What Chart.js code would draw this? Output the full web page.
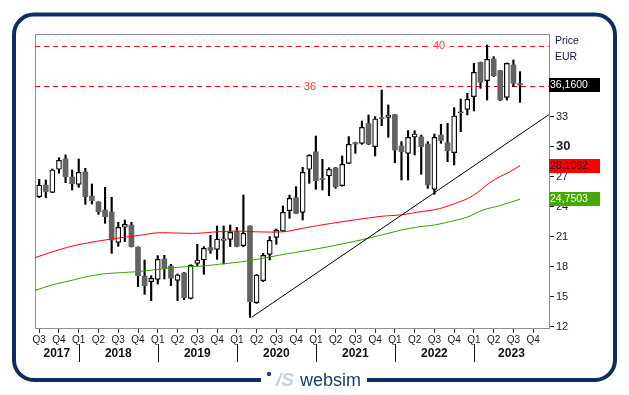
<!DOCTYPE html>
<html>
<head>
<meta charset="utf-8">
<script src="https://cdn.jsdelivr.net/npm/chart.js@4.4.1/dist/chart.umd.min.js"></script>
<style>
  html, body { margin: 0; padding: 0; background: #fff; }
  #wrap { position: relative; width: 629px; height: 395px; }
</style>
</head>
<body>
<div id="wrap"><canvas id="chart"></canvas></div>
<script>
// monthly candles, index 0 = Jul 2017
const open = [25.01, 26.17, 25.44, 27.74, 28.77, 26.97, 26.24, 27.47, 25.07, 24.48,
  23.68, 23.48, 20.45, 21.95, 22.18, 19.98, 17.09, 16.52, 16.76, 18.79,
  18.09, 16.66, 17.39, 14.86, 18.35, 18.69, 19.92, 19.75, 20.65, 20.75,
  21.51, 20.12, 22.08, 14.43, 16.62, 19.25, 20.95, 21.58, 23.61, 24.91,
  23.44, 27.74, 29.47, 26.76, 27.07, 27.87, 26.10, 28.33, 30.40, 30.33,
  32.29, 30.00, 32.86, 32.92, 33.19, 30.06, 29.33, 30.96, 30.96, 30.26,
  25.74, 31.16, 30.40, 29.40, 33.38, 33.72, 34.99, 38.41, 36.58, 38.75,
  37.58, 34.92, 38.15, 36.30];
const high = [26.74, 26.67, 27.77, 28.90, 29.17, 27.67, 28.77, 27.84, 26.27, 24.50,
  25.94, 24.94, 22.45, 22.68, 22.45, 20.00, 18.69, 17.12, 19.12, 19.15,
  18.25, 17.29, 17.45, 18.22, 20.25, 20.02, 21.15, 22.08, 22.08, 22.18,
  21.95, 25.17, 22.10, 17.25, 19.35, 21.02, 21.78, 24.08, 25.17, 26.00,
  27.93, 29.20, 31.06, 28.73, 27.90, 27.93, 29.07, 31.00, 30.45, 32.56,
  33.16, 32.99, 35.65, 34.16, 33.20, 30.50, 31.59, 31.59, 31.16, 30.50,
  31.26, 32.23, 32.33, 33.89, 34.75, 35.32, 38.31, 38.45, 40.14, 38.98,
  37.60, 38.35, 38.65, 37.48];
const low = [24.91, 24.91, 25.40, 27.34, 26.40, 25.67, 25.94, 24.24, 24.28, 23.24,
  22.35, 19.35, 20.05, 20.52, 19.98, 16.03, 15.26, 14.63, 16.29, 16.79,
  16.13, 14.63, 14.73, 14.79, 18.12, 17.26, 19.35, 18.75, 18.29, 20.02,
  20.00, 20.02, 12.96, 14.36, 16.52, 18.69, 20.25, 21.51, 22.85, 23.30,
  22.68, 26.34, 25.74, 25.67, 25.11, 25.84, 26.05, 28.30, 29.33, 30.23,
  30.20, 29.07, 32.09, 30.93, 28.40, 26.67, 26.67, 29.17, 27.24, 25.84,
  25.24, 30.33, 28.50, 28.17, 31.49, 33.16, 33.56, 35.82, 34.65, 37.00,
  34.59, 34.65, 35.99, 34.42];
const close = [26.17, 25.51, 27.67, 28.63, 27.00, 26.30, 27.44, 25.01, 24.61, 23.51,
  23.01, 20.68, 21.95, 22.25, 20.02, 17.12, 16.13, 16.86, 18.75, 17.85,
  16.86, 17.19, 14.93, 18.15, 18.69, 19.85, 19.65, 20.78, 20.72, 21.45,
  20.05, 21.35, 14.53, 17.19, 19.15, 20.65, 21.65, 23.44, 24.84, 23.34,
  27.44, 29.13, 26.60, 26.72, 27.74, 26.00, 28.23, 30.23, 30.26, 31.93,
  30.26, 32.76, 32.80, 33.16, 29.66, 29.50, 30.93, 31.26, 30.00, 26.17,
  30.93, 30.60, 29.60, 33.06, 33.45, 34.72, 37.42, 36.42, 38.71, 37.08,
  34.65, 38.31, 36.32, 36.16];

// moving averages (month index, value)
const redMonth = [-0.64, 2, 5, 8, 11, 15, 18, 21, 24, 27, 30, 33, 37, 40, 43, 48, 52, 55, 58, 60, 61.5, 63, 65, 66.5, 68, 69.5, 71.5, 73];
const redValue = [18.92, 19.5, 20.07, 20.47, 20.78, 21.13, 21.4, 21.37, 21.35, 21.5, 21.57, 21.5, 21.5, 21.85, 22.2, 22.7, 23.05, 23.2, 23.52, 23.7, 23.95, 24.3, 24.8, 25.4, 26.2, 26.85, 27.5, 28.11];
const greenMonth = [-0.64, 2, 4.7, 7.2, 9.7, 12.3, 14.8, 17.3, 19.9, 22.4, 24.9, 27.4, 30.5, 32.5, 37.5, 42.6, 47.7, 52.7, 55, 57.8, 60, 62.3, 64.9, 67.4, 69.9, 73];
const greenValue = [15.66, 16.2, 16.62, 17.02, 17.29, 17.42, 17.52, 17.69, 17.89, 18.02, 18.09, 18.27, 18.49, 18.69, 19.29, 19.85, 20.52, 21.3, 21.68, 22.01, 22.18, 22.51, 22.95, 23.68, 24.11, 24.75];
const redLast = 28.1062;
const greenLast = 24.7503;

// trend line
const trendMonth = [32.25, 77.4];
const trendValue = [12.97, 33.2];

const levels = [40, 36];
const quarterLabels = ['Q3', 'Q4',
  'Q1', 'Q2', 'Q3', 'Q4', 'Q1', 'Q2', 'Q3', 'Q4', 'Q1', 'Q2', 'Q3', 'Q4',
  'Q1', 'Q2', 'Q3', 'Q4', 'Q1', 'Q2', 'Q3', 'Q4', 'Q1', 'Q2', 'Q3', 'Q4'];
const years = ['2017', '2018', '2019', '2020', '2021', '2022', '2023'];
const priceTicks = [12, 15, 18, 21, 24, 27, 30, 33];

const FONT = '"Liberation Sans", Arial, sans-serif';
const xMin = -0.64, xMax = 77.4;

const idx = close.map((_, i) => i);
const up = idx.map(i => close[i] >= open[i]);
const fmt = v => v.toFixed(4).replace('.', ',');

const decor = {
  id: 'decor',
  beforeDatasetsDraw(chart) {
    const { ctx, chartArea: a } = chart;
    ctx.save();
    ctx.strokeStyle = '#8e8ea0';
    ctx.lineWidth = 1;
    ctx.strokeRect(a.left + 0.5, a.top + 0.5, a.right - a.left, a.bottom - a.top);
    ctx.restore();
  },
  afterDatasetsDraw(chart) {
    const { ctx } = chart;
    const xs = chart.scales.x, ys = chart.scales.y;
    const labelAt = [60.7, 41.1];
    ctx.save();
    ctx.font = '11px ' + FONT;
    ctx.textAlign = 'center';
    ctx.textBaseline = 'middle';
    levels.forEach((lv, k) => {
      const x = xs.getPixelForValue(labelAt[k]);
      const y = ys.getPixelForValue(lv);
      const w = ctx.measureText(String(lv)).width;
      ctx.fillStyle = '#fff';
      ctx.fillRect(x - w / 2 - 5, y - 5, w + 10, 10);
      ctx.fillStyle = '#ff3838';
      ctx.fillText(String(lv), x, y);
    });
    ctx.restore();
  },
  afterDraw(chart) {
    const { ctx } = chart;
    const xs = chart.scales.x, ys = chart.scales.y;
    ctx.save();

    // year row
    ctx.font = 'bold 12px ' + FONT;
    ctx.textAlign = 'center';
    ctx.textBaseline = 'middle';
    ctx.fillStyle = '#111';
    ctx.strokeStyle = '#111';
    ctx.lineWidth = 1;
    years.forEach((yr, k) => {
      const s = k * 12 - 6, e = s + 12;
      const c = (Math.max(s, xMin) + Math.min(e, xMax)) / 2;
      ctx.fillText(yr, xs.getPixelForValue(c), 354);
      if (s > xMin) {
        const px = Math.round(xs.getPixelForValue(s)) + 0.5;
        ctx.beginPath();
        ctx.moveTo(px, 344);
        ctx.lineTo(px, 362);
        ctx.stroke();
      }
    });

    // right side captions
    ctx.textAlign = 'left';
    ctx.font = '10.5px ' + FONT;
    ctx.fillStyle = '#16164a';
    ctx.fillText('Price', 555, 41);
    ctx.fillText('EUR', 555, 57);

    // value boxes
    const boxes = [
      [close[close.length - 1], '#000000', '#ffffff'],
      [redLast, '#ff0000', '#1a0000'],
      [greenLast, '#48a800', '#ffffff']
    ];
    boxes.forEach(([v, bg, fg]) => {
      const y = Math.round(ys.getPixelForValue(v));
      ctx.fillStyle = bg;
      ctx.fillRect(549, y - 7, 51, 14);
      ctx.fillStyle = fg;
      ctx.fillText(fmt(v), 550, y + 0.5);
    });

    // outer frame
    const L = 14, T = 14.5, R = 615, B = 380, r = 20;
    ctx.strokeStyle = '#0c2f5f';
    ctx.lineWidth = 4;
    ctx.beginPath();
    ctx.moveTo(261, B);
    ctx.arcTo(L, B, L, T, r);
    ctx.arcTo(L, T, R, T, r);
    ctx.arcTo(R, T, R, B, r);
    ctx.arcTo(R, B, 367, B, r);
    ctx.lineTo(367, B);
    ctx.stroke();

    // logo
    ctx.fillStyle = '#1d3d6b';
    ctx.beginPath();
    ctx.arc(269, 374, 2.2, 0, Math.PI * 2);
    ctx.fill();
    ctx.font = 'italic bold 19px ' + FONT;
    ctx.fillStyle = '#c6d1de';
    ctx.textBaseline = 'alphabetic';
    ctx.fillText('/S', 276, 386);
    ctx.font = '18px ' + FONT;
    ctx.fillStyle = '#1d3d6b';
    ctx.fillText('websim', 300, 386);
    ctx.restore();
  }
};

new Chart(document.getElementById('chart'), {
  type: 'bar',
  data: {
    datasets: [
      {
        type: 'line', label: 'Trend',
        data: trendMonth.map((m, i) => ({ x: m, y: trendValue[i] })),
        borderColor: '#000', borderWidth: 1, pointRadius: 0, order: 0
      },
      {
        type: 'line', label: 'MA red',
        data: redMonth.map((m, i) => ({ x: m, y: redValue[i] })),
        borderColor: '#ff0000', borderWidth: 1, pointRadius: 0, tension: 0.3, order: 1
      },
      {
        type: 'line', label: 'MA green',
        data: greenMonth.map((m, i) => ({ x: m, y: greenValue[i] })),
        borderColor: '#3c9c00', borderWidth: 1, pointRadius: 0, tension: 0.3, order: 1
      },
      {
        type: 'bar', label: 'Body',
        data: idx.map(i => ({ x: i, y: [open[i], close[i]] })),
        backgroundColor: up.map(u => u ? '#ffffff' : '#636363'),
        borderColor: up.map(u => u ? '#000000' : '#636363'),
        borderWidth: up.map(u => u ? 1.2 : 0),
        borderSkipped: false,
        barThickness: 5, minBarLength: 1, grouped: false, order: 2
      },
      {
        type: 'bar', label: 'Wick',
        data: idx.map(i => ({ x: i, y: [low[i], high[i]] })),
        backgroundColor: '#000', barThickness: 1.5, grouped: false, order: 3
      },
      ...levels.map(lv => ({
        type: 'line', label: 'Level ' + lv,
        data: [{ x: xMin, y: lv }, { x: xMax, y: lv }],
        borderColor: '#ff0000', borderWidth: 1, borderDash: [5, 4], pointRadius: 0, order: 5
      }))
    ]
  },
  options: {
    responsive: true,
    maintainAspectRatio: false,
    animation: false,
    events: [],
    layout: { padding: { left: 35, top: 34, right: 0, bottom: 0 } },
    plugins: { legend: { display: false }, tooltip: { enabled: false } },
    scales: {
      x: {
        type: 'linear', min: xMin, max: xMax, offset: false,
        afterFit: axis => { axis.height = 67; },
        afterBuildTicks: axis => { axis.ticks = quarterLabels.map((_, k) => ({ value: k * 3 })); },
        grid: { drawOnChartArea: false, tickLength: 5, color: '#333', offset: false },
        border: { display: false },
        ticks: {
          autoSkip: false, maxRotation: 0, padding: 1,
          color: '#1a1a1a', font: { family: FONT, size: 10 },
          callback: (v, k) => quarterLabels[k]
        }
      },
      y: {
        type: 'linear', position: 'right', min: 11.9, max: 41.24,
        afterFit: axis => { axis.width = 80; },
        afterBuildTicks: axis => { axis.ticks = priceTicks.map(v => ({ value: v })); },
        grid: { drawOnChartArea: false, tickLength: 5, color: '#222' },
        border: { display: false },
        ticks: {
          padding: 2, color: '#1a1a2a',
          font: ctx => (ctx.tick && ctx.tick.value === 30)
            ? { family: FONT, size: 13, weight: 'bold' }
            : { family: FONT, size: 11 },
          callback: v => String(v)
        }
      }
    }
  },
  plugins: [decor]
});
</script>
</body>
</html>
